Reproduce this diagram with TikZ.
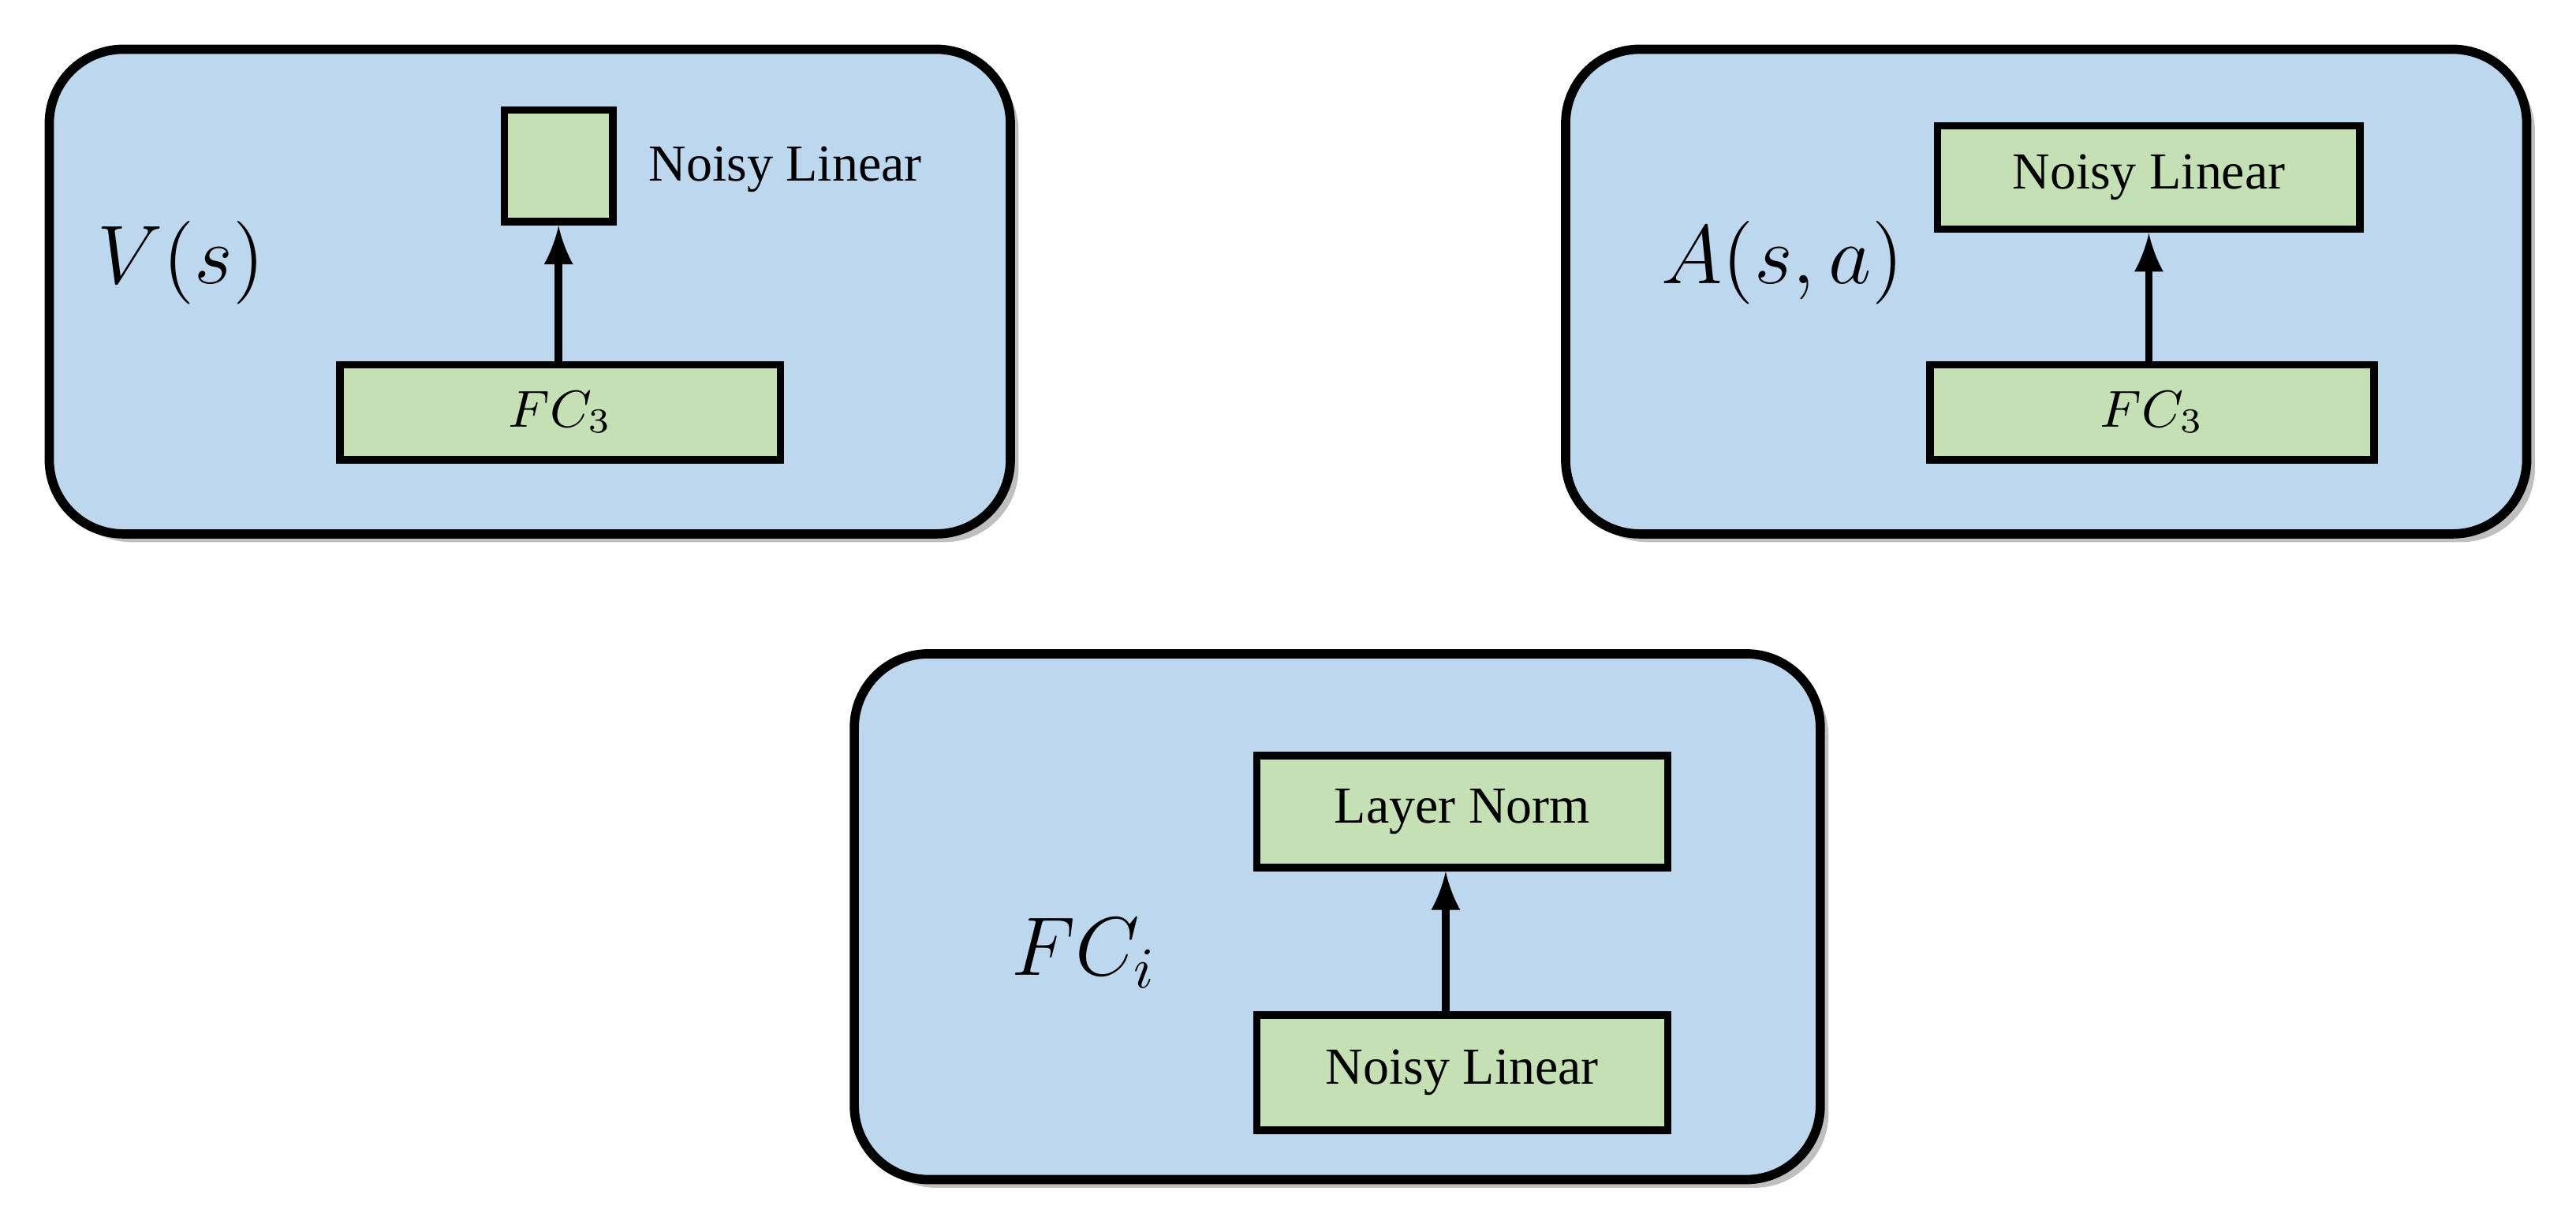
\documentclass[tikz,border=0pt]{standalone}
\usepackage{fontspec}
\setmainfont{Liberation Serif}
\usetikzlibrary{shadows}
\begin{document}
\begin{tikzpicture}[x=0.01cm,y=-0.01cm,
 panel/.style={draw=black,line width=1.6pt,fill={rgb,255:red,189;green,215;blue,238},rounded corners=0.45cm,drop shadow={shadow xshift=0.05cm,shadow yshift=-0.05cm,opacity=0.5}},
 blk/.style={draw=black,line width=1.3pt,fill={rgb,255:red,197;green,224;blue,180},inner sep=0pt},
 lbl/.style={font=\fontsize{9}{11}\selectfont},
 big/.style={font=\fontsize{14}{16}\selectfont},
 arr/.style={-latex,line width=1.3pt}]
\useasboundingbox (0,0) rectangle (1568,749.5);
% panel 1
\path[panel] (30,30) rectangle (615,325);
\node[blk,minimum width=0.66cm,minimum height=0.68cm] (n1) at (340,101) {};
\node[lbl] (t1) at (478,103) {Noisy Linear};
\node[big] (v) at (110,160) {$V(s)$};
\node[blk,minimum width=2.68cm,minimum height=0.58cm,lbl] (f1) at (341,251) {$FC_3$};
\draw[arr] (f1.north -| n1.south) -- (n1.south);
% panel 2
\path[panel] (953,30) rectangle (1538,325);
\node[blk,minimum width=2.57cm,minimum height=0.63cm,lbl] (n2) at (1308,108) {Noisy Linear};
\node[big] (a) at (1085,160) {$A(s,a)$};
\node[blk,minimum width=2.70cm,minimum height=0.58cm,lbl] (f2) at (1310,251) {$FC_3$};
\draw[arr] (f2.north -| n2.south) -- (n2.south);
% panel 3
\path[panel] (520,398) rectangle (1108,718);
\node[blk,minimum width=2.50cm,minimum height=0.68cm,lbl] (ln) at (890,494) {Layer Norm};
\node[big] (fc) at (660,580) {$FC_i$};
\node[blk,minimum width=2.50cm,minimum height=0.70cm,lbl] (n3) at (890,653) {Noisy Linear};
\draw[arr] ([xshift=-0.1cm]n3.north) -- ([xshift=-0.1cm]ln.south);
\end{tikzpicture}
\end{document}
